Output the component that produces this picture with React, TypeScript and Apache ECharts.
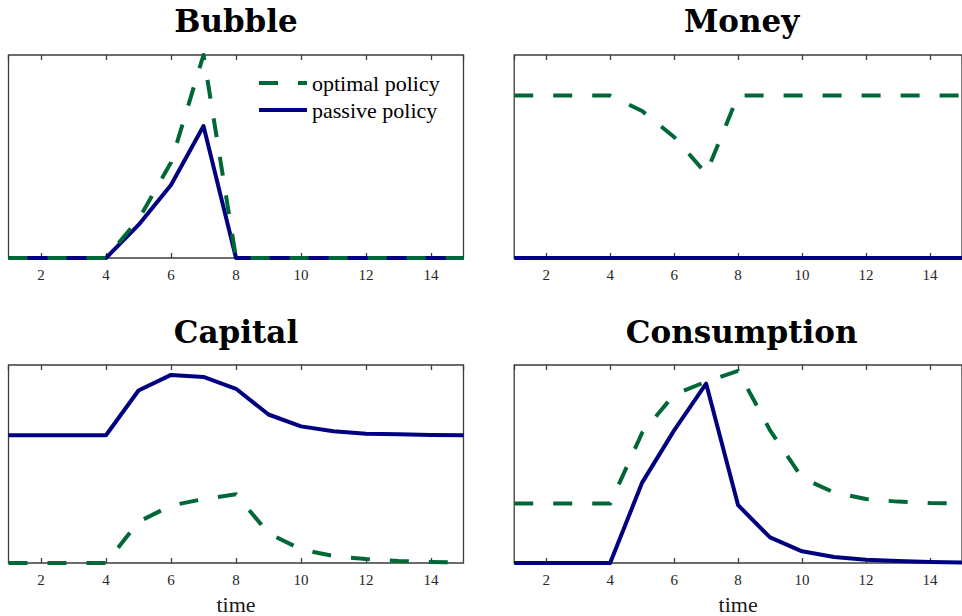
import React, { useEffect, useRef } from "react";
import * as echarts from "echarts";

const time = [1, 2, 3, 4, 5, 6, 7, 8, 9, 10, 11, 12, 13, 14, 15];

const bubbleOptimal = [0, 0, 0, 0, 0.19, 0.47, 1.0, 0, 0, 0, 0, 0, 0, 0, 0];
const bubblePassive = [0, 0, 0, 0, 0.163, 0.36, 0.65, 0, 0, 0, 0, 0, 0, 0, 0];

const moneyOptimal = [1, 1, 1, 1, 0.905, 0.745, 0.52, 1, 1, 1, 1, 1, 1, 1, 1];
const moneyPassive = [0, 0, 0, 0, 0, 0, 0, 0, 0, 0, 0, 0, 0, 0, 0];

const capitalOptimal = [0, 0, 0, 0, 0.208, 0.29, 0.323, 0.347, 0.15, 0.069, 0.035, 0.02, 0.01, 0.005, 0.002];
const capitalPassive = [0.645, 0.645, 0.645, 0.645, 0.871, 0.95, 0.94, 0.88, 0.75, 0.69, 0.665, 0.653, 0.65, 0.647, 0.645];

const consumptionOptimal = [0.3, 0.3, 0.3, 0.3, 0.658, 0.85, 0.916, 0.97, 0.67, 0.43, 0.356, 0.323, 0.31, 0.303, 0.3];
const consumptionPassive = [0, 0, 0, 0, 0.406, 0.67, 0.906, 0.292, 0.129, 0.059, 0.03, 0.016, 0.01, 0.005, 0.003];

const panelTitles = ["Bubble", "Money", "Capital", "Consumption"];
const panelMax = [1, 1.25, 1, 1];
const optimalSets = [bubbleOptimal, moneyOptimal, capitalOptimal, consumptionOptimal];
const passiveSets = [bubblePassive, moneyPassive, capitalPassive, consumptionPassive];
const seriesNames = ["optimal policy", "passive policy"];

const GREEN = "#006837";
const NAVY = "#000080";
const FRAME = "#3c3c3c";

export default function App() {
  const ref = useRef<HTMLDivElement>(null);

  useEffect(() => {
    if (!ref.current) return;
    const chart = echarts.init(ref.current, undefined, { renderer: "svg" });

    const grids = [
      { left: 8.5, top: 55, width: 455, height: 203 },
      { left: 514.2, top: 55, width: 455, height: 203 },
      { left: 8.5, top: 365, width: 455, height: 202 },
      { left: 514.2, top: 365, width: 455, height: 202 },
    ].map((g) => ({
      ...g,
      show: true,
      borderColor: FRAME,
      borderWidth: 1.3,
      backgroundColor: "transparent",
      containLabel: false,
    }));

    const xAxes: any[] = [];
    const yAxes: any[] = [];
    const series: any[] = [];

    for (let i = 0; i < 4; i++) {
      const bottomRow = i >= 2;
      xAxes.push({
        type: "value",
        gridIndex: i,
        position: "bottom",
        min: 1,
        max: 15,
        splitNumber: 7,
        axisLine: { show: false },
        axisTick: { show: true, inside: true, length: 5, lineStyle: { color: FRAME, width: 1.3 } },
        axisLabel: {
          show: true,
          margin: 9,
          showMinLabel: false,
          showMaxLabel: false,
          color: "#262626",
          fontFamily: "Liberation Serif",
          fontSize: 15,
        },
        splitLine: { show: false },
        name: bottomRow ? "time" : "",
        nameLocation: "middle",
        nameGap: 30,
        nameTextStyle: { fontFamily: "Liberation Serif", fontSize: 22, color: "#1a1a1a" },
      });
      xAxes.push({
        type: "value",
        gridIndex: i,
        position: "top",
        min: 1,
        max: 15,
        splitNumber: 7,
        axisLine: { show: false },
        axisTick: { show: true, inside: true, length: 5, lineStyle: { color: FRAME, width: 1.3 } },
        axisLabel: { show: false },
        splitLine: { show: false },
      });
      yAxes.push({
        type: "value",
        gridIndex: i,
        min: 0,
        max: panelMax[i],
        show: false,
        splitLine: { show: false },
      });

      series.push({
        name: seriesNames[1],
        type: "line",
        xAxisIndex: i * 2,
        yAxisIndex: i,
        data: time.map((t, k) => [t, passiveSets[i][k]]),
        symbol: "none",
        showSymbol: false,
        z: 2,
        lineStyle: { color: NAVY, width: 4, type: "solid", join: "round" },
        itemStyle: { color: NAVY },
      });
      series.push({
        name: seriesNames[0],
        type: "line",
        xAxisIndex: i * 2,
        yAxisIndex: i,
        data: time.map((t, k) => [t, optimalSets[i][k]]),
        symbol: "none",
        showSymbol: false,
        z: 3,
        lineStyle: { color: GREEN, width: 4, type: [19, 20], cap: "butt", join: "round" },
        itemStyle: { color: GREEN },
      });
    }

    const titleCenters = [
      [236, 21],
      [741.7, 21],
      [236, 332],
      [741.7, 332],
    ];

    const graphics = panelTitles.map((t, i) => ({
      type: "text",
      x: titleCenters[i][0],
      y: titleCenters[i][1],
      style: {
        text: t,
        fontFamily: "DejaVu Serif",
        fontWeight: "bold",
        fontSize: 31,
        fill: "#000",
        align: "center",
        verticalAlign: "middle",
      },
    }));

    chart.setOption({
      animation: false,
      backgroundColor: "#ffffff",
      grid: grids,
      xAxis: xAxes,
      yAxis: yAxes,
      series,
      legend: {
        data: seriesNames,
        orient: "vertical",
        left: 257,
        top: 72,
        itemWidth: 48,
        itemHeight: 14,
        itemGap: 5,
        padding: 0,
        selectedMode: false,
        itemStyle: { opacity: 0 },
        lineStyle: { width: 4 },
        textStyle: {
          fontFamily: "Liberation Serif",
          fontSize: 22,
          lineHeight: 22,
          color: "#000",
        },
      },
      graphic: graphics,
    });

    return () => {
      chart.dispose();
    };
  }, []);

  return (
    <div
      ref={ref}
      style={{ position: "fixed", left: 0, top: 0, width: 962, height: 616, background: "#fff" }}
    />
  );
}
